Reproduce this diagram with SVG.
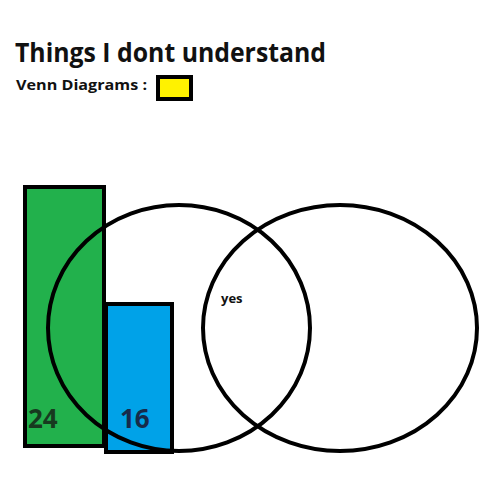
<svg xmlns="http://www.w3.org/2000/svg" width="480" height="480" viewBox="0 0 480 480">
<style>
.t{font-family:"Open Sans","Liberation Sans",sans-serif;font-weight:bold;fill:#111}
.box{stroke:#000;stroke-width:4}
.ring{fill:none;stroke:#000;stroke-width:4}
</style>
<rect width="480" height="480" fill="#fff"/>
<g id="title">
<text class="t" x="15" y="62" font-size="27" textLength="311" lengthAdjust="spacingAndGlyphs">Things I dont understand</text>
</g>
<g id="legend">
<text class="t" x="16" y="90" font-size="15" textLength="131" lengthAdjust="spacingAndGlyphs">Venn Diagrams :</text>
<rect class="box" x="158" y="77" width="33" height="22" fill="#fff200"/>
</g>
<g id="bar24">
<rect class="box" x="25" y="187" width="79" height="259" fill="#22b14c"/>
<text class="t" x="28" y="428" font-size="26" style="fill:#173a1f">24</text>
</g>
<g id="bar16">
<rect class="box" x="106" y="304" width="66" height="148" fill="#00a2e8"/>
<text class="t" x="120" y="428" font-size="26" style="fill:#172a4a">16</text>
</g>
<g id="connectors">
<ellipse id="setA" class="ring" cx="179" cy="328" rx="131" ry="123"/>
<ellipse id="setB" class="ring" cx="340" cy="328" rx="137" ry="123"/>
</g>
<g id="yes">
<text class="t" x="221" y="303" font-size="13">yes</text>
</g>
</svg>
